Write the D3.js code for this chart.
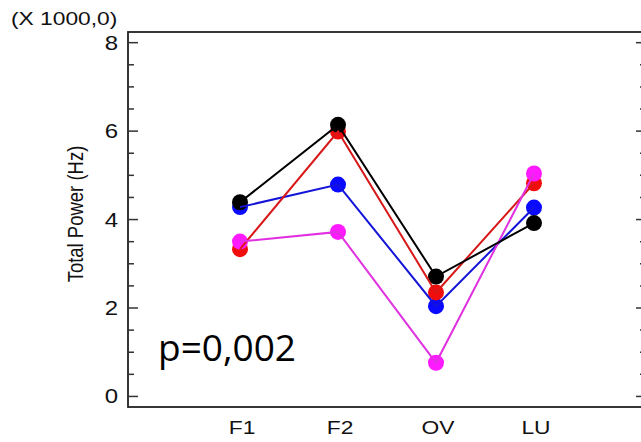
<!DOCTYPE html>
<html>
<head>
<meta charset="utf-8">
<script src="https://cdn.jsdelivr.net/npm/d3@7"></script>
<style>
  body { margin: 0; background: #fff; }
  text { font-family: "Liberation Sans", Arial, sans-serif; fill: #111; }
</style>
</head>
<body>
<div id="wrapper"></div>
<script>
// categories on the x axis
const categories = ["F1", "F2", "OV", "LU"]
// series values, in thousands
const blueValues = [4.27, 4.78, 2.03, 4.26]
const redValues = [3.32, 5.98, 2.34, 4.81]
const magentaValues = [3.49, 3.71, 0.75, 5.03]
const blackValues = [4.38, 6.13, 2.70, 3.91]
const yTicks = [0, 2, 4, 6, 8]

const series = [
  { name: "blue", color: "#0a0aff", line: "#1414d8", values: blueValues },
  { name: "red", color: "#f20d0d", line: "#d81818", values: redValues },
  { name: "magenta", color: "#ff1aff", line: "#e030e0", values: magentaValues },
  { name: "black", color: "#000000", line: "#000000", values: blackValues },
]

let dimensions = {
  width: 641,
  height: 442,
  margin: { top: 32, right: -5, bottom: 35, left: 128 },
}
dimensions.boundedWidth = dimensions.width
  - dimensions.margin.left
  - dimensions.margin.right
dimensions.boundedHeight = dimensions.height
  - dimensions.margin.top
  - dimensions.margin.bottom

const stretch = 1.2 // the picture is a bit wider than tall

const wrapper = d3.select("#wrapper")
  .append("svg")
    .attr("width", dimensions.width)
    .attr("height", dimensions.height)

const bounds = wrapper.append("g")
  .attr("transform", `translate(${dimensions.margin.left},${dimensions.margin.top})`)

const xScale = d3.scalePoint()
  .domain(categories)
  .range([0, dimensions.boundedWidth])
  .padding(1.143)

const yScale = d3.scaleLinear()
  .domain([-0.25, 8.23])
  .range([dimensions.boundedHeight, 0])

// frame
bounds.append("rect")
  .attr("width", dimensions.boundedWidth)
  .attr("height", dimensions.boundedHeight)
  .attr("fill", "none")
  .attr("stroke", "#222")
  .attr("stroke-width", 1.8)

// left and right ticks, major + minor
const minorTicks = d3.range(0.5, 8, 0.5).filter(d => d % 2 !== 0)
const leftAxis = d3.axisRight(yScale).tickValues(yTicks).tickSize(10).tickFormat("")
const leftMinor = d3.axisRight(yScale).tickValues(minorTicks).tickSize(6).tickFormat("")
const rightAxis = d3.axisLeft(yScale).tickValues(yTicks).tickSize(10).tickFormat("")
const rightMinor = d3.axisLeft(yScale).tickValues(minorTicks).tickSize(6).tickFormat("")

;[leftAxis, leftMinor].forEach(ax => {
  bounds.append("g").call(ax).call(g => g.select(".domain").remove())
    .selectAll("line").attr("stroke", "#333").attr("stroke-width", 1.5)
})
;[rightAxis, rightMinor].forEach(ax => {
  bounds.append("g").attr("transform", `translate(${dimensions.boundedWidth},0)`)
    .call(ax).call(g => g.select(".domain").remove())
    .selectAll("line").attr("stroke", "#333").attr("stroke-width", 1.5)
})

// y tick labels
bounds.append("g").selectAll("text")
  .data(yTicks)
  .join("text")
    .attr("transform", d => `translate(-10,${yScale(d) + 7.5}) scale(${stretch},1)`)
    .attr("text-anchor", "end")
    .style("font-size", "20px")
    .text(d => d)

// x labels
bounds.append("g").selectAll("text")
  .data(categories)
  .join("text")
    .attr("transform", d => `translate(${xScale(d) + 2},${dimensions.boundedHeight + 27}) scale(${stretch},1)`)
    .attr("text-anchor", "middle")
    .style("font-size", "19px")
    .text(d => d)

// circles first, lines are drawn over them
series.forEach(s => {
  bounds.append("g").selectAll("circle")
    .data(s.values)
    .join("circle")
      .attr("cx", (d, i) => xScale(categories[i]))
      .attr("cy", d => yScale(d))
      .attr("r", 8)
      .attr("fill", s.color)
})

const lineGenerator = d3.line()
  .x((d, i) => xScale(categories[i]))
  .y(d => yScale(d))

series.forEach(s => {
  bounds.append("path")
    .attr("d", lineGenerator(s.values))
    .attr("fill", "none")
    .attr("stroke", s.line)
    .attr("stroke-width", 2)
})

// axis title
wrapper.append("text")
  .attr("transform", `translate(83,214) scale(${stretch},1) rotate(-90)`)
  .attr("text-anchor", "middle")
  .style("font-size", "18.5px")
  .text("Total Power (Hz)")

// multiplier
wrapper.append("text")
  .attr("transform", `translate(11,25) scale(${stretch},1)`)
  .style("font-size", "19px")
  .text("(X 1000,0)")

// p value
wrapper.append("text")
  .attr("x", 158)
  .attr("y", 361)
  .style("font-family", "'Open Sans', 'Noto Sans', sans-serif")
  .style("font-size", "37px")
  .style("fill", "#000")
  .text("p=0,002")
</script>
</body>
</html>
